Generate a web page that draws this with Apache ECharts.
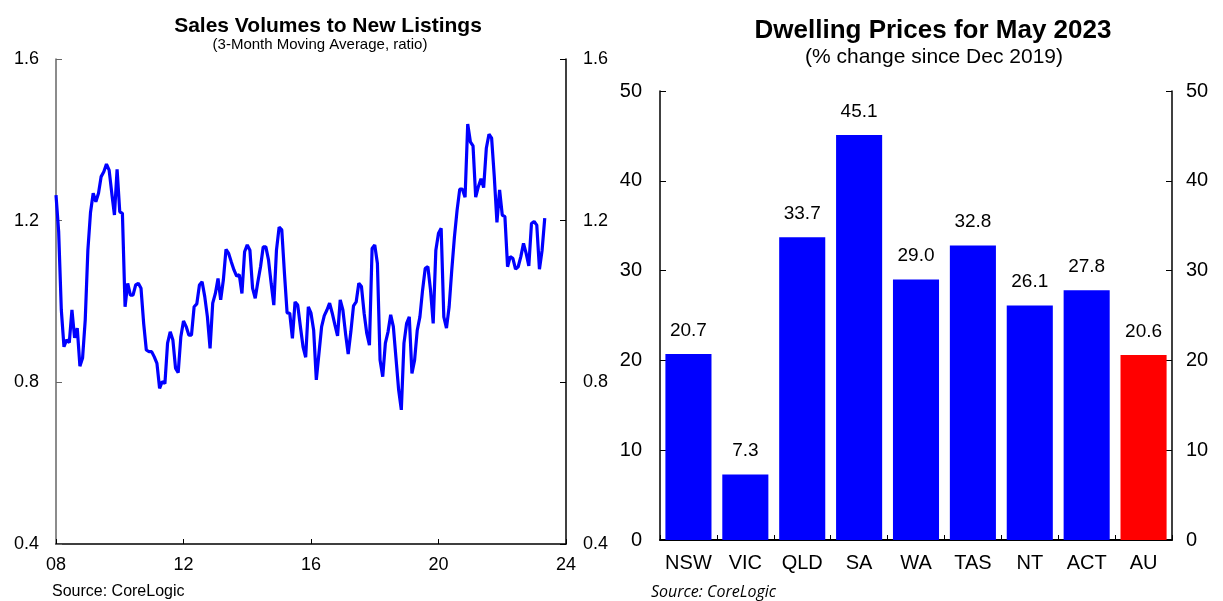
<!DOCTYPE html>
<html>
<head>
<meta charset="utf-8">
<script src="https://cdn.jsdelivr.net/npm/echarts@6/dist/echarts.min.js"></script>
<style>
html,body{margin:0;padding:0;background:#fff;}
#main{width:1223px;height:601px;}
</style>
</head>
<body>
<div id="main"></div>
<script>
// left panel: monthly ratio, first point Jan 2008
const startYear = 2008
const ratio = [
  1.263, 1.173, 0.979, 0.888, 0.905, 0.898, 0.979, 0.910, 0.934, 0.840, 0.860, 0.954,
  1.127, 1.221, 1.268, 1.247, 1.268, 1.309, 1.321, 1.340, 1.325, 1.268, 1.214, 1.327,
  1.222, 1.218, 0.987, 1.045, 1.016, 1.016, 1.041, 1.045, 1.033, 0.946, 0.880, 0.876,
  0.876, 0.863, 0.847, 0.785, 0.802, 0.797, 0.897, 0.925, 0.905, 0.835, 0.824,
  0.913, 0.952, 0.938, 0.917, 0.917, 0.987, 0.994, 1.041, 1.049, 1.012, 0.962, 0.884,
  0.996, 1.020, 1.057, 1.004, 1.053, 1.129, 1.119, 1.098, 1.078, 1.063, 1.066, 1.020,
  1.123, 1.140, 1.127, 1.033, 1.008, 1.049, 1.086, 1.135, 1.135, 1.103, 1.045, 0.991,
  1.127, 1.184, 1.177, 1.070, 0.972, 0.971, 0.909, 0.999, 0.991, 0.938, 0.888,
  0.862, 0.987, 0.971, 0.929, 0.806, 0.872, 0.938, 0.965, 0.979, 0.996, 0.971, 0.942,
  0.915, 1.004, 0.979, 0.921, 0.870, 0.925, 0.989, 0.999, 1.045, 1.037, 0.971, 0.921,
  0.892, 1.131, 1.140, 1.094, 0.855, 0.814, 0.897, 0.925, 0.967, 0.938, 0.859, 0.781,
  0.732, 0.897, 0.946, 0.962, 0.822, 0.855, 0.929, 0.962, 1.028, 1.082, 1.086,
  1.028, 0.946, 1.127, 1.169, 1.181, 0.962, 0.934, 0.987, 1.078, 1.160, 1.226, 1.278,
  1.278, 1.258, 1.439, 1.395, 1.385, 1.258, 1.284, 1.304, 1.282, 1.379, 1.414, 1.404,
  1.309, 1.196, 1.276, 1.214, 1.210, 1.086, 1.111, 1.107, 1.080, 1.086, 1.111, 1.144,
  1.119, 1.088, 1.193, 1.198, 1.189, 1.080, 1.127, 1.206
]
const yearTicks = [2008, 2012, 2016, 2020, 2024]

// right panel
const regions = ['NSW', 'VIC', 'QLD', 'SA', 'WA', 'TAS', 'NT', 'ACT', 'AU']
const priceChange = [20.7, 7.3, 33.7, 45.1, 29.0, 32.8, 26.1, 27.8, 20.6]

const FONT = 'Liberation Sans, Arial, sans-serif'
const BLUE = '#0000ff'
const RED = '#ff0000'

let chart = echarts.init(document.getElementById('main'))

const lineData = ratio.map((v, i) => [startYear + i / 12, v])

function yAx(grid, pos, min, max, step, dec, lineColor, margin, fs) {
  return {
    type: 'value', gridIndex: grid, position: pos,
    min: min, max: max, interval: step,
    axisLine: {show: true, lineStyle: {color: lineColor, width: 1.5}},
    axisTick: {show: true, inside: true, length: 6, lineStyle: {color: lineColor}},
    axisLabel: {color: '#000', fontFamily: FONT, fontSize: fs, margin: margin,
      formatter: v => v.toFixed(dec)},
    splitLine: {show: false}
  }
}

chart.setOption({
  animation: false,
  textStyle: {fontFamily: FONT},
  title: [
    {text: 'Sales Volumes to New Listings', left: 323, top: 11, textAlign: 'center',
      textStyle: {fontSize: 21, fontWeight: 'bold', color: '#000', fontFamily: FONT}},
    {text: '(3-Month Moving Average, ratio)', left: 315, top: 32, textAlign: 'center',
      textStyle: {fontSize: 15, fontWeight: 'normal', color: '#000', fontFamily: FONT}},
    {text: 'Source: CoreLogic', left: 47, top: 579,
      textStyle: {fontSize: 16, fontWeight: 'normal', color: '#000', fontFamily: FONT}},
    {text: 'Dwelling Prices for May 2023', left: 928, top: 13, textAlign: 'center',
      textStyle: {fontSize: 26, fontWeight: 'bold', color: '#000', fontFamily: FONT}},
    {text: '(% change since Dec 2019)', left: 929, top: 42, textAlign: 'center',
      textStyle: {fontSize: 21, fontWeight: 'normal', color: '#000', fontFamily: FONT}},
    {text: 'Source: CoreLogic', left: 646, top: 579,
      textStyle: {fontSize: 16, fontWeight: 'normal', fontStyle: 'italic', color: '#000', fontFamily: 'Open Sans, sans-serif'}}
  ],
  grid: [
    {left: 56, top: 59, width: 510, height: 485},
    {left: 660, top: 91, width: 512, height: 449}
  ],
  xAxis: [
    {
      type: 'value', gridIndex: 0, min: 2008, max: 2024, interval: 4,
      axisLine: {show: true, lineStyle: {color: '#000', width: 1.5}},
      axisTick: {show: true, inside: true, length: 5, lineStyle: {color: '#000'}},
      axisLabel: {color: '#000', fontSize: 18, fontFamily: FONT, margin: 12,
        formatter: v => yearTicks.includes(v) ? String(v % 100).padStart(2, '0') : ''},
      splitLine: {show: false}
    },
    {
      type: 'category', gridIndex: 1, data: regions,
      axisLine: {show: true, lineStyle: {color: '#000', width: 2}},
      axisTick: {show: true, inside: true, length: 5, lineStyle: {color: '#000'}},
      axisLabel: {color: '#000', fontSize: 20, fontFamily: FONT, margin: 13, interval: 0,
        hideOverlap: false}
    }
  ],
  yAxis: [
    yAx(0, 'left', 0.4, 1.6, 0.4, 1, '#666', 17, 18),
    yAx(0, 'right', 0.4, 1.6, 0.4, 1, '#000', 17, 18),
    yAx(1, 'left', 0, 50, 10, 0, '#000', 18, 20),
    yAx(1, 'right', 0, 50, 10, 0, '#000', 14, 20)
  ],
  series: [
    {
      type: 'line', xAxisIndex: 0, yAxisIndex: 0, data: lineData,
      showSymbol: false, lineStyle: {color: BLUE, width: 3.2}
    },
    {
      type: 'bar', xAxisIndex: 1, yAxisIndex: 2, data: priceChange,
      barCategoryGap: '19%',
      itemStyle: {color: p => p.name === 'AU' ? RED : BLUE},
      label: {show: true, position: 'top', distance: 14, color: '#000', fontSize: 19,
        fontFamily: FONT, formatter: p => p.value.toFixed(1)}
    }
  ]
})
</script>
</body>
</html>
